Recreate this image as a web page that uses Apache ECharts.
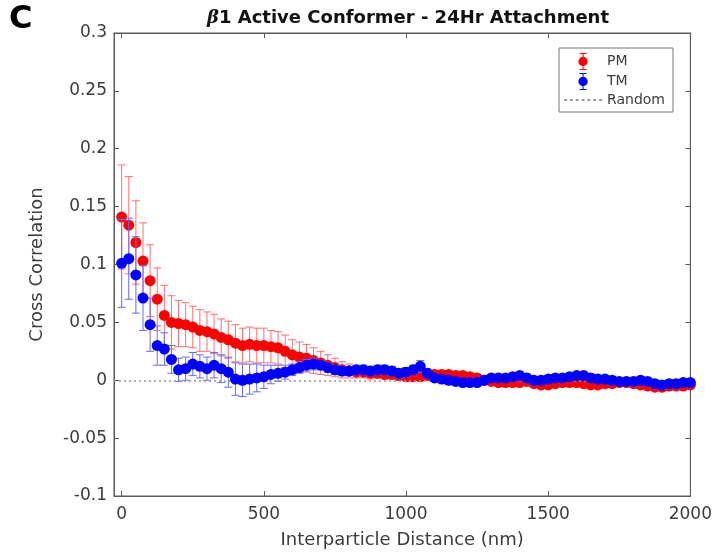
<!DOCTYPE html>
<html>
<head>
<meta charset="utf-8">
<script src="https://cdn.jsdelivr.net/npm/echarts@6/dist/echarts.min.js"></script>
<style>html,body{margin:0;padding:0;background:#fff;}#chart{width:715px;height:554px;}</style>
</head>
<body>
<div id="chart"></div>
<script>
const distance = [0,25,50,75,100,125,150,175,200,225,250,275,300,325,350,375,400,425,450,475,500,525,550,575,600,625,650,675,700,725,750,775,800,825,850,875,900,925,950,975,1000,1025,1050,1075,1100,1125,1150,1175,1200,1225,1250,1275,1300,1325,1350,1375,1400,1425,1450,1475,1500,1525,1550,1575,1600,1625,1650,1675,1700,1725,1750,1775,1800,1825,1850,1875,1900,1925,1950,1975,2000];
const pmValues = [0.141,0.134,0.119,0.103,0.086,0.070,0.056,0.050,0.049,0.048,0.046,0.043,0.042,0.040,0.037,0.035,0.032,0.030,0.031,0.030,0.030,0.029,0.028,0.025,0.022,0.020,0.019,0.017,0.015,0.013,0.011,0.009,0.008,0.007,0.007,0.006,0.006,0.005,0.005,0.004,0.003,0.003,0.003,0.004,0.005,0.005,0.005,0.004,0.004,0.003,0.002,0.000,-0.001,-0.002,-0.002,-0.002,-0.002,-0.001,-0.003,-0.004,-0.004,-0.003,-0.002,-0.002,-0.002,-0.003,-0.004,-0.004,-0.003,-0.003,-0.002,-0.002,-0.003,-0.004,-0.005,-0.006,-0.006,-0.005,-0.005,-0.005,-0.004];
const pmErrors = [0.045,0.042,0.036,0.033,0.031,0.027,0.026,0.023,0.020,0.019,0.018,0.018,0.017,0.017,0.016,0.016,0.016,0.015,0.015,0.015,0.015,0.014,0.014,0.014,0.013,0.013,0.012,0.011,0.010,0.009,0.008,0.007,0.006,0.005,0.005,0.005,0.004,0.004,0.004,0.004,0.003,0.003,0.003,0.003,0.003,0.003,0.003,0.003,0.003,0.003,0.003,0.003,0.003,0.003,0.003,0.003,0.003,0.003,0.003,0.003,0.003,0.003,0.003,0.003,0.003,0.003,0.003,0.003,0.003,0.003,0.003,0.003,0.003,0.003,0.003,0.003,0.003,0.003,0.003,0.003,0.003];
const tmValues = [0.101,0.105,0.091,0.071,0.048,0.030,0.027,0.018,0.009,0.010,0.014,0.012,0.010,0.013,0.010,0.007,0.001,0.000,0.001,0.002,0.003,0.005,0.006,0.007,0.009,0.011,0.013,0.014,0.013,0.011,0.009,0.008,0.008,0.009,0.009,0.008,0.009,0.009,0.008,0.006,0.007,0.009,0.012,0.006,0.002,0.001,0.000,-0.001,-0.002,-0.002,-0.002,0.000,0.002,0.002,0.002,0.003,0.004,0.002,0.000,0.000,0.001,0.002,0.002,0.003,0.004,0.004,0.002,0.001,0.001,0.000,-0.001,-0.001,-0.001,0.000,-0.001,-0.003,-0.004,-0.003,-0.003,-0.002,-0.002];
const tmErrors = [0.038,0.035,0.033,0.028,0.023,0.017,0.014,0.012,0.010,0.010,0.010,0.010,0.010,0.011,0.012,0.013,0.014,0.014,0.013,0.012,0.010,0.008,0.007,0.006,0.005,0.005,0.005,0.005,0.004,0.004,0.004,0.004,0.004,0.004,0.004,0.004,0.004,0.004,0.004,0.004,0.004,0.004,0.005,0.004,0.003,0.003,0.003,0.003,0.003,0.003,0.003,0.003,0.003,0.003,0.003,0.003,0.003,0.003,0.003,0.003,0.003,0.003,0.003,0.003,0.003,0.003,0.003,0.003,0.003,0.003,0.003,0.003,0.003,0.003,0.003,0.003,0.003,0.003,0.003,0.003,0.003];
const xTicks = [0,500,1000,1500,2000];
const yTicks = [-0.1,-0.05,0,0.05,0.1,0.15,0.2,0.25,0.3];
const randomLevel = 0;

const FONT = '"DejaVu Sans", "Liberation Sans", sans-serif';
const TXT = '#3c3c3c';

function pts(vals) { return distance.map((d, i) => [d, vals[i]]); }
function errData(vals, errs) { return distance.map((d, i) => [d, vals[i], errs[i]]); }
function errRender(color) {
  return function (params, api) {
    const x = api.value(0), y = api.value(1), e = api.value(2);
    const top = api.coord([x, y + e]);
    const bot = api.coord([x, y - e]);
    const hw = 4;
    const style = { stroke: color, lineWidth: 1 };
    return {
      type: 'group',
      children: [
        { type: 'line', shape: { x1: top[0], y1: top[1], x2: bot[0], y2: bot[1] }, style },
        { type: 'line', shape: { x1: top[0] - hw, y1: top[1], x2: top[0] + hw, y2: top[1] }, style },
        { type: 'line', shape: { x1: bot[0] - hw, y1: bot[1], x2: bot[0] + hw, y2: bot[1] }, style }
      ]
    };
  };
}
const ebIcon = 'path://M6,0 H14 V1.2 H10.6 V18.8 H14 V20 H6 V18.8 H9.4 V1.2 H6 Z M10,4.5 A5.5,5.5 0 1,1 9.99,4.5 Z';
const dotIcon = 'path://M0,0 H3 V2 H0 Z M6,0 H9 V2 H6 Z M12,0 H15 V2 H12 Z M18,0 H21 V2 H18 Z M24,0 H27 V2 H24 Z M30,0 H33 V2 H30 Z M36,0 H39 V2 H36 Z';

const chart = echarts.init(document.getElementById('chart'), null, { renderer: 'canvas' });
const axisLineStyle = { color: '#5a5a5a', width: 1 };
chart.setOption({
  animation: false,
  backgroundColor: '#fff',
  textStyle: { fontFamily: FONT },
  title: {
    text: '{b|β}{t|1 Active Conformer - 24Hr Attachment}',
    left: 403, top: 4, textAlign: 'center',
    textStyle: {
      rich: {
        b: { fontFamily: '"DejaVu Serif", serif', fontStyle: 'italic', fontSize: 18, color: '#111' },
        t: { fontFamily: FONT, fontWeight: 'bold', fontSize: 18, color: '#111' }
      }
    }
  },
  graphic: [{
    type: 'text', left: 9, top: 4,
    style: { text: 'C', fontFamily: FONT, fontWeight: 'bold', fontSize: 32, fill: '#000' }
  }],
  legend: {
    orient: 'vertical', right: 42, top: 48,
    backgroundColor: '#fff', borderColor: '#777', borderWidth: 1, borderRadius: 0,
    padding: [5, 8, 5, 5], itemGap: 3, itemWidth: 38, itemHeight: 17,
    textStyle: { fontFamily: FONT, fontSize: 14, color: TXT },
    data: [
      { name: 'PM', icon: ebIcon, itemStyle: { color: '#ff0000' } },
      { name: 'TM', icon: ebIcon, itemStyle: { color: '#0000ff' } },
      { name: 'Random', icon: dotIcon, itemStyle: { color: '#9a9a9a' } }
    ]
  },
  grid: { left: 114, right: 24, top: 33, bottom: 58, show: true, borderColor: '#5a5a5a', borderWidth: 1, backgroundColor: '#fff' },
  xAxis: [{
    type: 'value', min: -27, max: 2000,
    name: 'Interparticle Distance (nm)', nameLocation: 'middle', nameGap: 35,
    nameTextStyle: { fontFamily: FONT, fontSize: 18, color: TXT },
    axisLine: { show: true, onZero: false, lineStyle: axisLineStyle },
    axisTick: { show: true, inside: true, length: 5, customValues: xTicks, lineStyle: axisLineStyle },
    axisLabel: { customValues: xTicks, fontFamily: FONT, fontSize: 17, color: TXT, margin: 10, formatter: v => String(v) },
    splitLine: { show: false }
  }, {
    type: 'value', position: 'top', min: -27, max: 2000,
    axisLine: { show: true, onZero: false, lineStyle: axisLineStyle },
    axisTick: { show: true, inside: true, length: 5, customValues: xTicks, lineStyle: axisLineStyle },
    axisLabel: { show: false, customValues: xTicks }, splitLine: { show: false }
  }],
  yAxis: [{
    type: 'value', min: -0.1, max: 0.3, interval: 0.05,
    name: 'Cross Correlation', nameLocation: 'middle', nameGap: 68,
    nameTextStyle: { fontFamily: FONT, fontSize: 18, color: TXT },
    axisLine: { show: true, onZero: false, lineStyle: axisLineStyle },
    axisTick: { show: true, inside: true, length: 5, lineStyle: axisLineStyle },
    axisLabel: { fontFamily: FONT, fontSize: 17, color: TXT, margin: 7, formatter: v => String(parseFloat(v.toFixed(2))) },
    splitLine: { show: false }
  }, {
    type: 'value', position: 'right', min: -0.1, max: 0.3, interval: 0.05,
    axisLine: { show: true, onZero: false, lineStyle: axisLineStyle },
    axisTick: { show: true, inside: true, length: 5, lineStyle: axisLineStyle },
    axisLabel: { show: false }, splitLine: { show: false }
  }],
  series: [
    {
      name: 'Random', type: 'line', data: [], symbol: 'none',
      lineStyle: { color: '#9a9a9a', type: [2, 3], width: 1.5 },
      itemStyle: { color: '#9a9a9a' },
      markLine: {
        silent: true, symbol: 'none', label: { show: false },
        lineStyle: { color: '#999999', type: [2, 3], width: 1.5 },
        data: [{ yAxis: randomLevel }]
      },
      z: 1
    },
    { name: 'PM_err', type: 'custom', renderItem: errRender('#ff7070'), data: errData(pmValues, pmErrors), encode: { x: 0, y: 1 }, z: 2, silent: true },
    { name: 'PM', type: 'scatter', data: pts(pmValues), symbol: 'circle', symbolSize: 11, itemStyle: { color: '#ff0000', opacity: 1 }, z: 3 },
    { name: 'TM_err', type: 'custom', renderItem: errRender('#6868ff'), data: errData(tmValues, tmErrors), encode: { x: 0, y: 1 }, z: 4, silent: true },
    { name: 'TM', type: 'scatter', data: pts(tmValues), symbol: 'circle', symbolSize: 11, itemStyle: { color: '#0000ff', opacity: 1 }, z: 5 }
  ]
});
</script>
</body>
</html>
